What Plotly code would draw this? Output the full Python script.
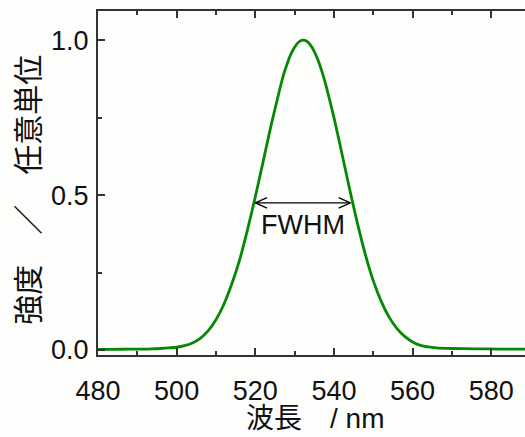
import plotly.graph_objects as go

# Spectrum (wavelength in nm, normalised intensity)
wavelength = [480, 484, 488, 492, 494, 496, 498, 500, 502, 504, 506, 508, 510,
              512, 514, 516, 518, 520, 522, 524, 526, 527, 528, 529, 530, 531,
              532, 533, 534, 535, 536, 537, 538, 540, 542, 544, 546, 548, 550,
              552, 554, 556, 558, 560, 562, 564, 566, 570, 576, 582, 590]
intensity = [0.002, 0.002, 0.003, 0.003, 0.004, 0.005, 0.007, 0.009, 0.014,
             0.023, 0.038, 0.062, 0.098, 0.147, 0.212, 0.290, 0.387, 0.494,
             0.608, 0.724, 0.830, 0.880, 0.920, 0.953, 0.977, 0.993, 1.000,
             0.997, 0.985, 0.964, 0.934, 0.897, 0.853, 0.751, 0.636, 0.519,
             0.408, 0.308, 0.224, 0.158, 0.107, 0.070, 0.044, 0.026, 0.015,
             0.010, 0.007, 0.005, 0.004, 0.003, 0.003]

# FWHM marker
fwhm_left = 520.0
fwhm_right = 544.2
fwhm_level = 0.475
fwhm_label = "FWHM"

x_title = "波長　/ nm"
y_title = "強度　／　任意単位"

FONT = "Liberation Sans, Arial, Noto Sans CJK JP, sans-serif"
GREEN = "#068806"
AXIS = "#333333"

fig = go.Figure()
fig.add_trace(go.Scatter(x=wavelength, y=intensity, mode="lines",
                         line=dict(color=GREEN, width=2.8, shape="spline", smoothing=0.5),
                         hoverinfo="skip", showlegend=False))

# double-headed arrow built from the FWHM values
head_dx = 3.0
head_dy = 0.017
fig.add_trace(go.Scatter(x=[fwhm_left, fwhm_right], y=[fwhm_level, fwhm_level],
                         mode="lines", line=dict(color="black", width=1.3),
                         hoverinfo="skip", showlegend=False))
fig.add_trace(go.Scatter(x=[fwhm_left + head_dx, fwhm_left, fwhm_left + head_dx],
                         y=[fwhm_level + head_dy, fwhm_level, fwhm_level - head_dy],
                         mode="lines", line=dict(color="black", width=1.3),
                         hoverinfo="skip", showlegend=False))
fig.add_trace(go.Scatter(x=[fwhm_right - head_dx, fwhm_right, fwhm_right - head_dx],
                         y=[fwhm_level + head_dy, fwhm_level, fwhm_level - head_dy],
                         mode="lines", line=dict(color="black", width=1.3),
                         hoverinfo="skip", showlegend=False))
fig.add_annotation(x=(fwhm_left + fwhm_right) / 2, y=fwhm_level, yshift=-22,
                   text=fwhm_label, showarrow=False,
                   font=dict(family=FONT, size=27, color="#111111"))

# axis titles
fig.add_annotation(xref="paper", yref="paper", x=0.508, y=-0.186,
                   xanchor="center", yanchor="middle", text=x_title, showarrow=False,
                   font=dict(family=FONT, size=28, color="#111111"))
fig.add_annotation(xref="paper", yref="paper", x=-0.162, y=0.48, textangle=-90,
                   xanchor="center", yanchor="middle", text=y_title, showarrow=False,
                   font=dict(family=FONT, size=30, color="#111111"))

fig.update_layout(
    width=525, height=437,
    margin=dict(l=98, r=0, t=11, b=82),
    paper_bgcolor="#fdfdfc", plot_bgcolor="#fdfdfc",
    font=dict(family=FONT, size=27, color="#111111"),
)
fig.update_xaxes(
    range=[480, 588.6], tick0=480, dtick=20, automargin=False,
    showline=True, linecolor=AXIS, linewidth=2, mirror="ticks",
    ticks="inside", ticklen=7, tickwidth=1.5, tickcolor=AXIS,
    minor=dict(dtick=10, ticks="inside", ticklen=4, tickwidth=1.5, tickcolor=AXIS),
    showgrid=False, zeroline=False, ticklabelstandoff=11,
)
fig.update_yaxes(
    range=[-0.016, 1.094], tick0=0, dtick=0.5, tickformat=".1f", automargin=False,
    showline=True, linecolor=AXIS, linewidth=2, mirror=False,
    ticks="inside", ticklen=7, tickwidth=1.5, tickcolor=AXIS,
    minor=dict(dtick=0.25, ticks="inside", ticklen=4, tickwidth=1.5, tickcolor=AXIS),
    showgrid=False, zeroline=False, ticklabelstandoff=2,
)

fig.write_html(
    "out.html",
    config={"displayModeBar": False},
    post_script="document.body.style.margin='0';"
                "document.body.style.overflow='hidden';"
                "document.documentElement.style.overflow='hidden';",
)
